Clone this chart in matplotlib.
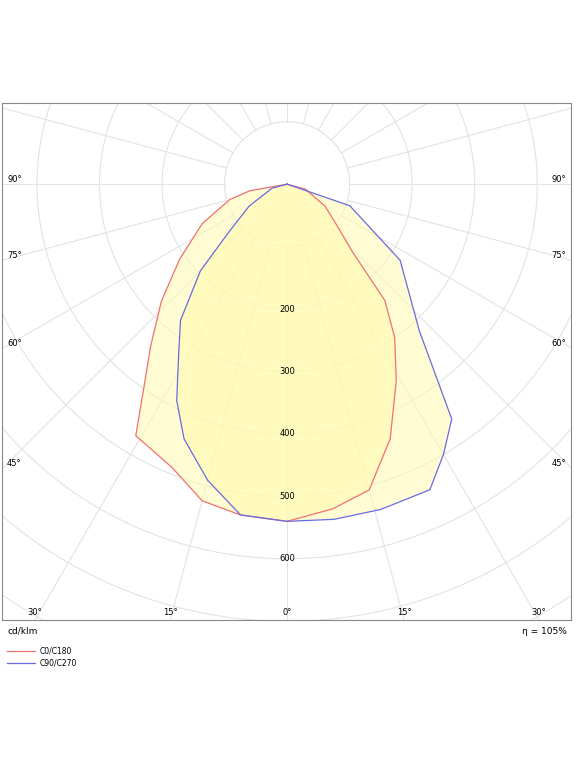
import numpy as np
import matplotlib
matplotlib.use("Agg")
import matplotlib.pyplot as plt

# angles in degrees from nadir (negative = left side), intensities in cd/klm
red_ang = [-90, -80, -75, -65, -55, -47, -40, -35, -31, -28, -22, -15, -8, 0,
           8, 15, 22, 29, 35, 40, 44, 50, 60, 75, 90]
red_val = [0, 60, 95, 150, 210, 275, 340, 400, 470, 475, 490, 525, 535, 540,
           525, 507, 440, 360, 300, 243, 150, 105, 70, 30, 0]
blue_ang = [-90, -75, -60, -51, -45, -38, -33, -27, -22, -15, -8, 0,
            8, 16, 25, 30, 35, 42, 56, 71, 90]
blue_val = [0, 25, 70, 117, 196, 277, 318, 389, 440, 491, 535, 540,
            542, 542, 540, 500, 459, 316, 218, 106, 0]
ring_labels = [200, 300, 400, 500, 600]
angle_labels = [90, 75, 60, 45]
bottom_labels = [30, 15, 0, 15, 30]

def xy(a, v):
    t = np.radians(a); v = np.asarray(v, float)
    return v * np.sin(t), -v * np.cos(t)

fig = plt.figure(figsize=(5.83, 7.77), dpi=100)
ax = fig.add_axes([2/583, 157/777, 569/583, 517/777])
xmin, xmax, ymin, ymax = -456, 454, -698, 130
ax.set_xlim(xmin, xmax); ax.set_ylim(ymin, ymax)
ax.set_xticks([]); ax.set_yticks([])
for s in ax.spines.values():
    s.set_color('#888888'); s.set_linewidth(0.8)

gc = '#e3e3e3'
th = np.linspace(0, 2*np.pi, 400)
for r in range(100, 1300, 100):
    ax.plot(r*np.cos(th), r*np.sin(th), color=gc, lw=0.8, zorder=1)
for a in range(0, 360, 15):
    t = np.radians(a)
    ax.plot([100*np.sin(t), 1500*np.sin(t)], [-100*np.cos(t), -1500*np.cos(t)],
            color=gc, lw=0.8, zorder=1)

rx, ry = xy(red_ang, red_val)
bx, by = xy(blue_ang, blue_val)
ax.fill(rx, ry, color='#fffbb0', alpha=0.55, lw=0, zorder=2)
ax.fill(bx, by, color='#fffbb0', alpha=0.55, lw=0, zorder=2)
ax.plot(rx, ry, color='#f07070', lw=0.9, zorder=3)
ax.plot(bx, by, color='#6a6ae0', lw=0.9, zorder=3)

for r in ring_labels:
    ax.text(0, -r, str(r), ha='center', va='center', fontsize=6, zorder=4)
for a in angle_labels:
    y = -(-xmin) / np.tan(np.radians(a)) if a != 90 else 0
    ax.text(xmin + 8, y + 8, f"{a}°", ha='left', va='center', fontsize=6)
    ax.text(xmax - 8, y + 8, f"{a}°", ha='right', va='center', fontsize=6)
for i, a in enumerate(bottom_labels):
    sgn = -1 if i < 2 else 1
    x = sgn * (-ymin) * np.tan(np.radians(a))
    ax.text(x, ymin + 12, f"{a}°", ha='center', va='center', fontsize=6)

fig.text(7/583, 1 - 631/777, "cd/klm", fontsize=6.5, va='center')
fig.text(567/583, 1 - 631/777, "η = 105%", fontsize=6.5, va='center', ha='right')
for yy, c, lab in [(651, '#f07070', 'C0/C180'), (663, '#6a6ae0', 'C90/C270')]:
    fig.add_artist(plt.Line2D([7/583, 35/583], [1-yy/777]*2, color=c, lw=0.9))
    fig.text(40/583, 1-yy/777, lab, fontsize=5.5, va='center')

fig.savefig("out.png", dpi=100)
